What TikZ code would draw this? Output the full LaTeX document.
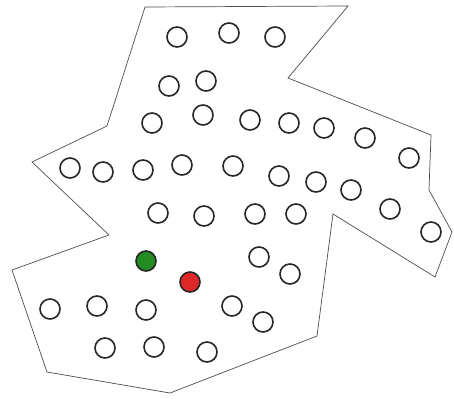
\documentclass[tikz,border=0pt]{standalone}
\usepackage{tikz}
\usetikzlibrary{positioning,calc}

\definecolor{holegreen}{RGB}{34,140,34}
\definecolor{holered}{RGB}{222,40,40}

\begin{document}
\begin{tikzpicture}[
    x=1pt, y=-1pt,
    hole/.style={circle, draw=black!85, line width=1.6pt, minimum size=20pt, inner sep=0pt},
    outline/.style={draw=black!70, line width=0.7pt, line join=miter}
]
\useasboundingbox (0,0) rectangle (454,398);

% outline of the board
\draw[outline] (145,7) -- (348,6) -- (288,78) -- (431,135) -- (429,190)
    -- (452,232) -- (435,277) -- (333,214) -- (317,336) -- (170,393)
    -- (47,372) -- (12,270) -- (109,235) -- (32,162) -- (107,126) -- cycle;

% empty holes
\foreach \x/\y [count=\i] in {177/37, 229/33, 275/37,
    169/86, 206/81,
    152/123, 203/115, 250/120, 289/123, 324/128, 365/138, 409/158,
    70/168, 103/172, 143/170, 182/165, 233/166, 279/176, 316/182, 351/190, 390/209, 431/232,
    158/213, 204/216, 255/214, 296/214,
    259/257, 290/274,
    50/309, 97/306, 146/310, 232/306, 263/322,
    105/348, 154/347, 207/352}
    \node[hole] (h\i) at (\x,\y) {};

% marked holes
\node[hole, fill=holegreen] (start) at (146,261) {};
\node[hole, fill=holered] (goal) at (190,282) {};

\end{tikzpicture}
\end{document}
